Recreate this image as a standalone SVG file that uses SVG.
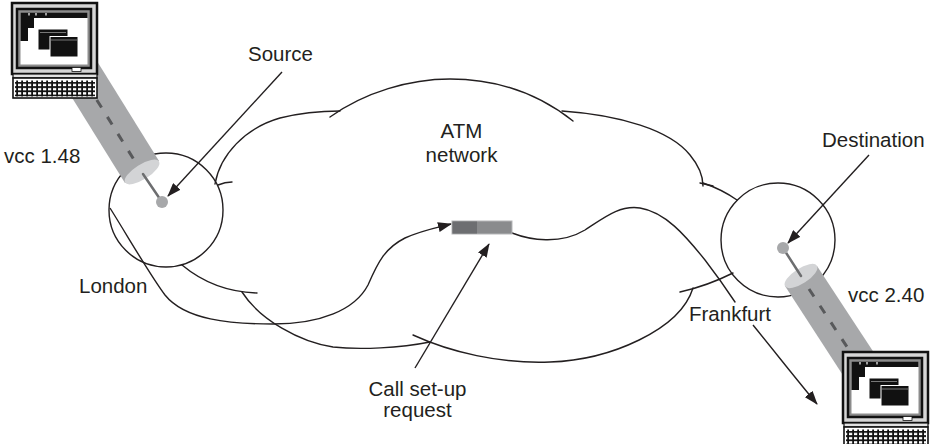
<svg xmlns="http://www.w3.org/2000/svg" width="933" height="444" viewBox="0 0 933 444">
  <style>
    .ln { fill: none; stroke: #231f20; stroke-width: 1.4; stroke-linecap: round; }
    .arr { fill: none; stroke: #231f20; stroke-width: 1.4; marker-end: url(#head); }
    .lbl { font-family: "Liberation Sans", Arial, Helvetica, sans-serif; font-size: 20.5px; fill: #231f20; }
    .mid { text-anchor: middle; }
    .tube { fill: #a7a8aa; }
    .cap { fill: #d3d4d6; }
    .dash { fill: none; stroke: #58595b; stroke-width: 3; stroke-dasharray: 9 11; }
    .stem { stroke: #6d6e70; stroke-width: 2.5; stroke-linecap: round; }
    .dot { fill: #a7a8aa; }
  </style>
  <defs>
    <marker id="head" viewBox="0 0 14 10" refX="13" refY="5" markerWidth="14" markerHeight="10" markerUnits="userSpaceOnUse" orient="auto">
      <path d="M0,0 L14,5 L0,10 Z" fill="#231f20"/>
    </marker>
    <pattern id="keys" width="5" height="4.2" patternUnits="userSpaceOnUse">
      <rect width="5" height="4.2" fill="#111"/>
      <rect x="1" y="1" width="3.2" height="2.4" fill="#fff"/>
    </pattern>
    <!-- workstation icon: monitor with two windows, base and keyboard -->
    <g id="pc">
      <rect x="0" y="0" width="85" height="71" fill="#d6d6d6" stroke="#111" stroke-width="2.5"/>
      <rect x="5" y="6" width="74" height="59" fill="#8c8c8c" stroke="#111" stroke-width="2.5"/>
      <rect x="8.5" y="9.5" width="67" height="52" fill="#fff"/>
      <path d="M8.5,9.5 H75.5 V15 H22 V25 H16 V38 H8.5 Z" fill="#111"/>
      <path d="M17,10 V12.5 M24,10 V12.5 M34,10 V12.5" stroke="#fff" stroke-width="1.2"/>
      <rect x="26.5" y="26.5" width="29" height="20" fill="#111"/>
      <line x1="28" y1="29.5" x2="54" y2="29.5" stroke="#777" stroke-width="1"/>
      <rect x="38" y="33.5" width="28" height="20.5" fill="#111" stroke="#fff" stroke-width="1"/>
      <line x1="39" y1="37" x2="65" y2="37" stroke="#777" stroke-width="1"/>
      <rect x="60" y="64.5" width="9" height="4" fill="#fff" stroke="#111" stroke-width="0.8"/>
      <rect x="1" y="71" width="84" height="4" fill="#e2e2e2" stroke="#111" stroke-width="1.2"/>
      <rect x="1" y="75" width="84" height="20" fill="#fff" stroke="#111" stroke-width="1.6"/>
      <rect x="3" y="77.5" width="80" height="16" fill="url(#keys)"/>
    </g>
  </defs>

  <rect width="933" height="444" fill="#fff"/>

  <!-- ATM network cloud -->
  <g id="atm-network">
    <path class="ln" d="M215,184 C220,155 245,128 280,118 C300,113 320,111 340,111"/>
    <path class="ln" d="M218,185 Q225,182 232,182"/>
    <path class="ln" d="M330,117 C365,92 410,79 450,79 C500,79 540,95 573,121"/>
    <path class="ln" d="M562,111 C620,115 670,130 690,155 C700,167 703,176 703,186"/>
    <path class="ln" d="M700,183 L713,186"/>
    <path class="ln" d="M703,183 C715,187 727,193 737,200"/>
    <path class="ln" d="M733,273 C715,282 698,288 680,292"/>
    <path class="ln" d="M413,335 C450,352 500,364 550,362 C610,360 680,330 693,288"/>
    <path class="ln" d="M430,342 C400,348 360,350 333,347 C300,342 260,320 242,292"/>
    <path class="ln" d="M182,265 C200,280 225,292 257,293"/>
    <text class="lbl mid" x="461.5" y="138">ATM</text>
    <text class="lbl mid" x="461.5" y="162">network</text>
  </g>

  <!-- switching nodes -->
  <g id="london">
    <circle class="ln" cx="166" cy="210" r="57"/>
    <text class="lbl" x="79" y="293">London</text>
  </g>
  <g id="frankfurt">
    <circle class="ln" cx="778" cy="240" r="57"/>
    <text class="lbl" x="689" y="321">Frankfurt</text>
  </g>

  <!-- signalling path of the call set-up request -->
  <g id="connectors">
    <path class="arr" d="M110,208 C130,240 150,275 165,295 C185,320 230,324 273,324 C320,324 355,310 368,285 C378,262 385,248 405,238 C420,231 435,228 451,224"/>
    <path class="ln" d="M512,233 C530,240 560,245 585,230 C605,217 620,205 640,208 C665,212 685,235 705,260 C715,273 725,287 735,302"/>
    <path class="arr" d="M753,325 C775,352 797,380 817,404"/>
    <path class="arr" d="M415,368 L489,244"/>
    <path class="arr" d="M282,72 L168,196"/>
    <path class="arr" d="M869,155 L788,243"/>
  </g>

  <!-- cell in transit -->
  <g id="cell">
    <rect x="452" y="221" width="60" height="13" fill="#8a8b8d" stroke="#b5b6b8" stroke-width="1"/>
    <rect x="452.5" y="221.5" width="24.5" height="12" fill="#6d6e71"/>
  </g>

  <!-- virtual channel at the source -->
  <g id="vcc-source">
    <polygon class="tube" points="30,30 64,8 159,161 125,183"/>
    <ellipse class="cap" cx="142" cy="172" rx="20" ry="7.5" transform="rotate(-32 142 172)"/>
    <line class="dash" x1="44" y1="15" x2="136" y2="163"/>
    <line class="stem" x1="143" y1="174" x2="162" y2="202"/>
    <circle class="dot" cx="162" cy="202" r="6"/>
    <text class="lbl" x="4" y="163">vcc 1.48</text>
  </g>

  <!-- virtual channel at the destination -->
  <g id="vcc-destination">
    <polygon class="tube" points="785,286 817,266 905,400 872,420"/>
    <ellipse class="cap" cx="801" cy="276" rx="19" ry="7.5" transform="rotate(-33 801 276)"/>
    <line class="dash" x1="809" y1="289" x2="895" y2="420"/>
    <line class="stem" x1="801" y1="276" x2="783" y2="248"/>
    <circle class="dot" cx="783" cy="248" r="6"/>
    <text class="lbl" x="848" y="302">vcc 2.40</text>
  </g>

  <g id="pc-source">
    <use href="#pc" transform="translate(12,3)"/>
  </g>
  <g id="pc-destination">
    <use href="#pc" transform="translate(843,352)"/>
  </g>

  <g id="labels">
    <text class="lbl" x="248" y="61">Source</text>
    <text class="lbl" x="822" y="147">Destination</text>
    <text class="lbl mid" x="417.5" y="396">Call set-up</text>
    <text class="lbl mid" x="417.5" y="417">request</text>
  </g>
</svg>
